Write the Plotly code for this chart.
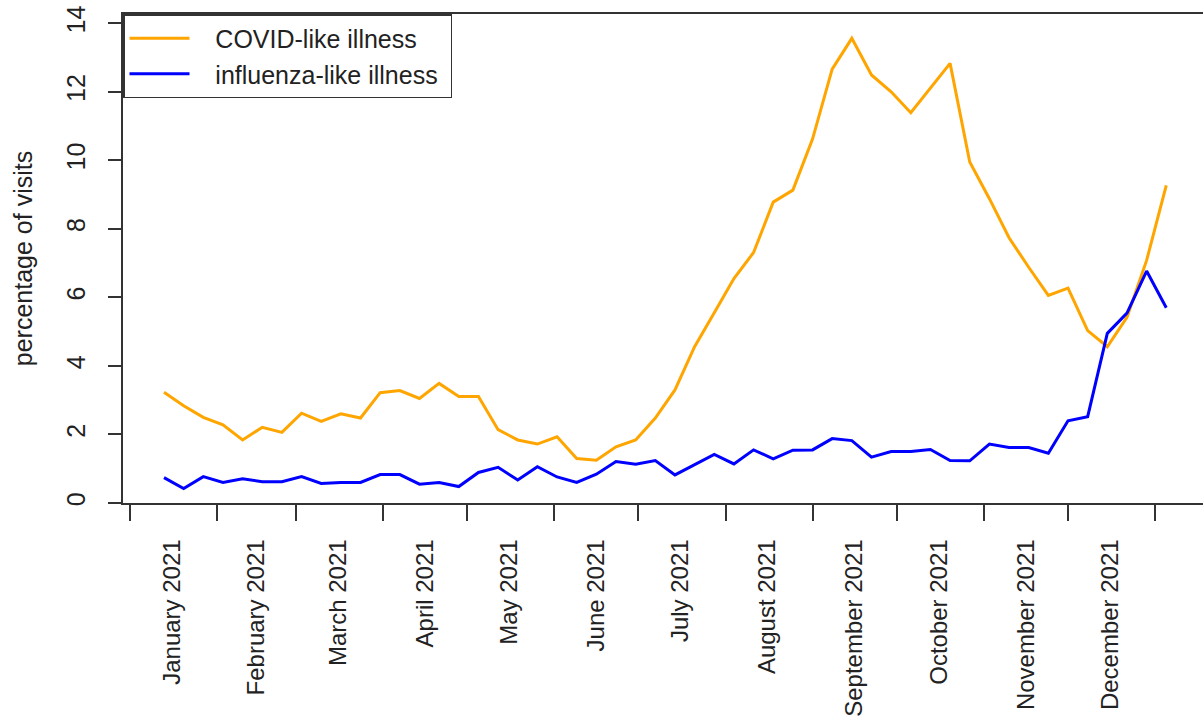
import plotly.graph_objects as go

weeks = [
    "2021-01-13", "2021-01-20", "2021-01-27", "2021-02-03", "2021-02-10", "2021-02-17", "2021-02-24",
    "2021-03-03", "2021-03-10", "2021-03-17", "2021-03-24", "2021-03-31", "2021-04-07", "2021-04-14",
    "2021-04-21", "2021-04-28", "2021-05-05", "2021-05-12", "2021-05-19", "2021-05-26", "2021-06-02",
    "2021-06-09", "2021-06-16", "2021-06-23", "2021-06-30", "2021-07-07", "2021-07-14", "2021-07-21",
    "2021-07-28", "2021-08-04", "2021-08-11", "2021-08-18", "2021-08-25", "2021-09-01", "2021-09-08",
    "2021-09-15", "2021-09-22", "2021-09-29", "2021-10-06", "2021-10-13", "2021-10-20", "2021-10-27",
    "2021-11-03", "2021-11-10", "2021-11-17", "2021-11-24", "2021-12-01", "2021-12-08", "2021-12-15",
    "2021-12-22", "2021-12-29", "2022-01-05",
]

covid_like = [
    3.23, 2.84, 2.50, 2.28, 1.84, 2.21, 2.06, 2.62, 2.38, 2.60, 2.48, 3.22, 3.28, 3.05,
    3.49, 3.11, 3.11, 2.14, 1.84, 1.72, 1.93, 1.30, 1.25, 1.64, 1.84, 2.48, 3.30, 4.56,
    5.55, 6.55, 7.31, 8.78, 9.13, 10.62, 12.66, 13.56, 12.49, 12.00, 11.39, 12.10, 12.83,
    9.95, 8.88, 7.74, 6.88, 6.06, 6.27, 5.03, 4.56, 5.42, 7.08, 9.27,
]

influenza_like = [
    0.74, 0.42, 0.77, 0.60, 0.71, 0.62, 0.62, 0.77, 0.57, 0.60, 0.60, 0.83, 0.83, 0.55,
    0.60, 0.48, 0.89, 1.04, 0.67, 1.06, 0.76, 0.60, 0.84, 1.21, 1.13, 1.24, 0.82, 1.13,
    1.42, 1.14, 1.55, 1.29, 1.54, 1.55, 1.88, 1.82, 1.34, 1.50, 1.50, 1.56, 1.24, 1.23,
    1.72, 1.62, 1.62, 1.45, 2.40, 2.52, 4.95, 5.54, 6.77, 5.70,
]

month_starts = [
    "2021-01-01", "2021-02-01", "2021-03-01", "2021-04-01", "2021-05-01", "2021-06-01",
    "2021-07-01", "2021-08-01", "2021-09-01", "2021-10-01", "2021-11-01", "2021-12-01",
    "2022-01-01",
]
label_dates = [
    "2021-01-16", "2021-02-15", "2021-03-16", "2021-04-16", "2021-05-16", "2021-06-16",
    "2021-07-16", "2021-08-16", "2021-09-16", "2021-10-16", "2021-11-16", "2021-12-16",
]
month_labels = [
    "January 2021", "February 2021", "March 2021", "April 2021", "May 2021", "June 2021",
    "July 2021", "August 2021", "September 2021", "October 2021", "November 2021",
    "December 2021",
]
y_ticks = [0, 2, 4, 6, 8, 10, 12, 14]
series_names = ["COVID-like illness", "influenza-like illness"]

FONT = "Liberation Sans, Arial, sans-serif"
TXT = "#222222"
LINE = "#333333"
NB = "\u00a0"

fig = go.Figure()
fig.add_trace(go.Scatter(x=weeks, y=covid_like, mode="lines",
                         name=NB * 3 + series_names[0] + NB,
                         line=dict(color="#FFA500", width=3)))
fig.add_trace(go.Scatter(x=weeks, y=influenza_like, mode="lines",
                         name=NB * 3 + series_names[1] + NB,
                         line=dict(color="#0000FF", width=3)))

fig.update_layout(
    width=1203, height=721,
    margin=dict(l=123, r=0, t=14, b=218),
    paper_bgcolor="white", plot_bgcolor="white",
    font=dict(family=FONT, size=25, color=TXT),
    showlegend=True,
    legend=dict(x=0, y=1, xanchor="left", yanchor="top", bgcolor="white",
                bordercolor=LINE, borderwidth=1.5, font=dict(size=25, color=TXT),
                tracegroupgap=0, itemwidth=60),
    xaxis=dict(
        type="date", automargin=False,
        range=["2020-12-29 09:30", "2022-01-18 02:00"],
        showgrid=False, zeroline=False,
        showline=True, linecolor=LINE, linewidth=1.5, mirror=True,
        tickmode="array", tickvals=label_dates, ticktext=month_labels,
        ticks="", tickangle=-90, ticklabelstandoff=25,
        tickfont=dict(size=24, color=TXT),
        minor=dict(tickmode="array", tickvals=month_starts, ticks="outside",
                   ticklen=16, tickwidth=1.5, tickcolor=LINE, showgrid=False),
    ),
    yaxis=dict(
        range=[0, 14.27], automargin=False,
        showgrid=False, zeroline=False,
        showline=True, linecolor=LINE, linewidth=1.5, mirror=False,
        tickmode="array", tickvals=y_ticks,
        ticks="outside", ticklen=13, tickwidth=1.5, tickcolor=LINE,
        tickangle=-90, ticklabelstandoff=13, tickfont=dict(size=25, color=TXT),
        title=dict(text="percentage of visits", font=dict(size=25, color=TXT), standoff=23),
    ),
)

fig.write_html("out.html")
